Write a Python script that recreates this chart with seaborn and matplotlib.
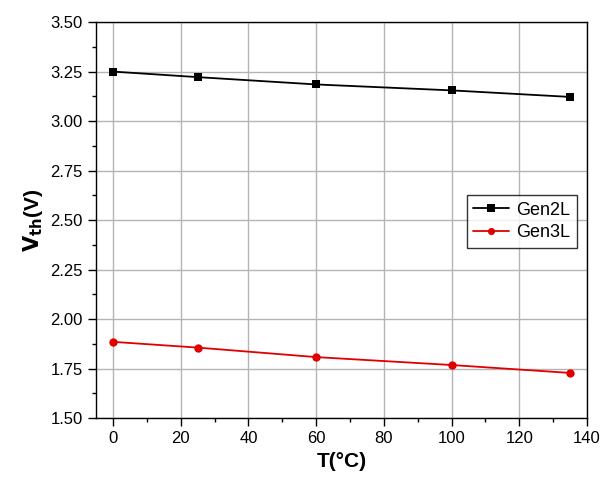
import matplotlib as mpl
mpl.use('Agg')

import seaborn as sns
import pandas as pd
import matplotlib.pyplot as plt
from matplotlib.ticker import MultipleLocator

# temperature points and threshold voltages
temps = [0, 25, 60, 100, 135]
gen2l = [3.25, 3.222, 3.185, 3.155, 3.122]
gen3l = [1.885, 1.856, 1.808, 1.768, 1.728]

df = pd.DataFrame({
    "T": temps * 2,
    "Vth": gen2l + gen3l,
    "series": ["Gen2L"] * len(temps) + ["Gen3L"] * len(temps),
})

sns.set_style("white", rc={"text.color": "black", "axes.labelcolor": "black",
                           "xtick.color": "black", "ytick.color": "black"})
plt.rcParams['font.family'] = ['Liberation Sans', 'DejaVu Sans']

fig = plt.figure(figsize=(6.04, 4.8), dpi=100)
ax = fig.add_axes([0.159, 0.129, 0.813, 0.825])

ax.grid(True, color="#b4b4b4", linewidth=1.0)
ax.set_axisbelow(True)

p1 = sns.lineplot(data=df, x="T", y="Vth", hue="series", style="series",
                  palette={"Gen2L": "black", "Gen3L": "#e00000"},
                  markers={"Gen2L": "s", "Gen3L": "o"},
                  dashes=False, markersize=6, markeredgewidth=0,
                  linewidth=1.3, ax=ax)

ax.set_xlim(-5, 140)
ax.set_ylim(1.5, 3.5)
ax.xaxis.set_major_locator(MultipleLocator(20))
ax.xaxis.set_minor_locator(MultipleLocator(10))
ax.yaxis.set_major_locator(MultipleLocator(0.25))
ax.yaxis.set_minor_locator(MultipleLocator(0.125))
ax.yaxis.set_major_formatter(mpl.ticker.FormatStrFormatter('%.2f'))

ax.tick_params(which="major", direction="out", length=6, width=1, labelsize=12,
               bottom=True, left=True, colors="black")
ax.tick_params(which="minor", direction="out", length=3, width=1,
               bottom=True, left=True)
for s in ax.spines.values():
    s.set_color("black")
    s.set_linewidth(1.0)

ax.set_xlabel("T(°C)", fontsize=15, fontweight="bold", labelpad=2)
ax.set_ylabel(r"$\mathbf{V_{th}}$(V)", fontsize=15, fontweight="bold", labelpad=4)
ax.xaxis.set_label_coords(0.5, -0.085)

leg = ax.legend(loc="upper right", bbox_to_anchor=(0.997, 0.585),
                fontsize=13, frameon=True, fancybox=False,
                handlelength=2.0, handletextpad=0.4, borderpad=0.35,
                labelspacing=0.3, markerscale=0.85)
leg.get_frame().set_edgecolor("black")
leg.get_frame().set_linewidth(1.0)

fig.savefig("out.png", dpi=100)
